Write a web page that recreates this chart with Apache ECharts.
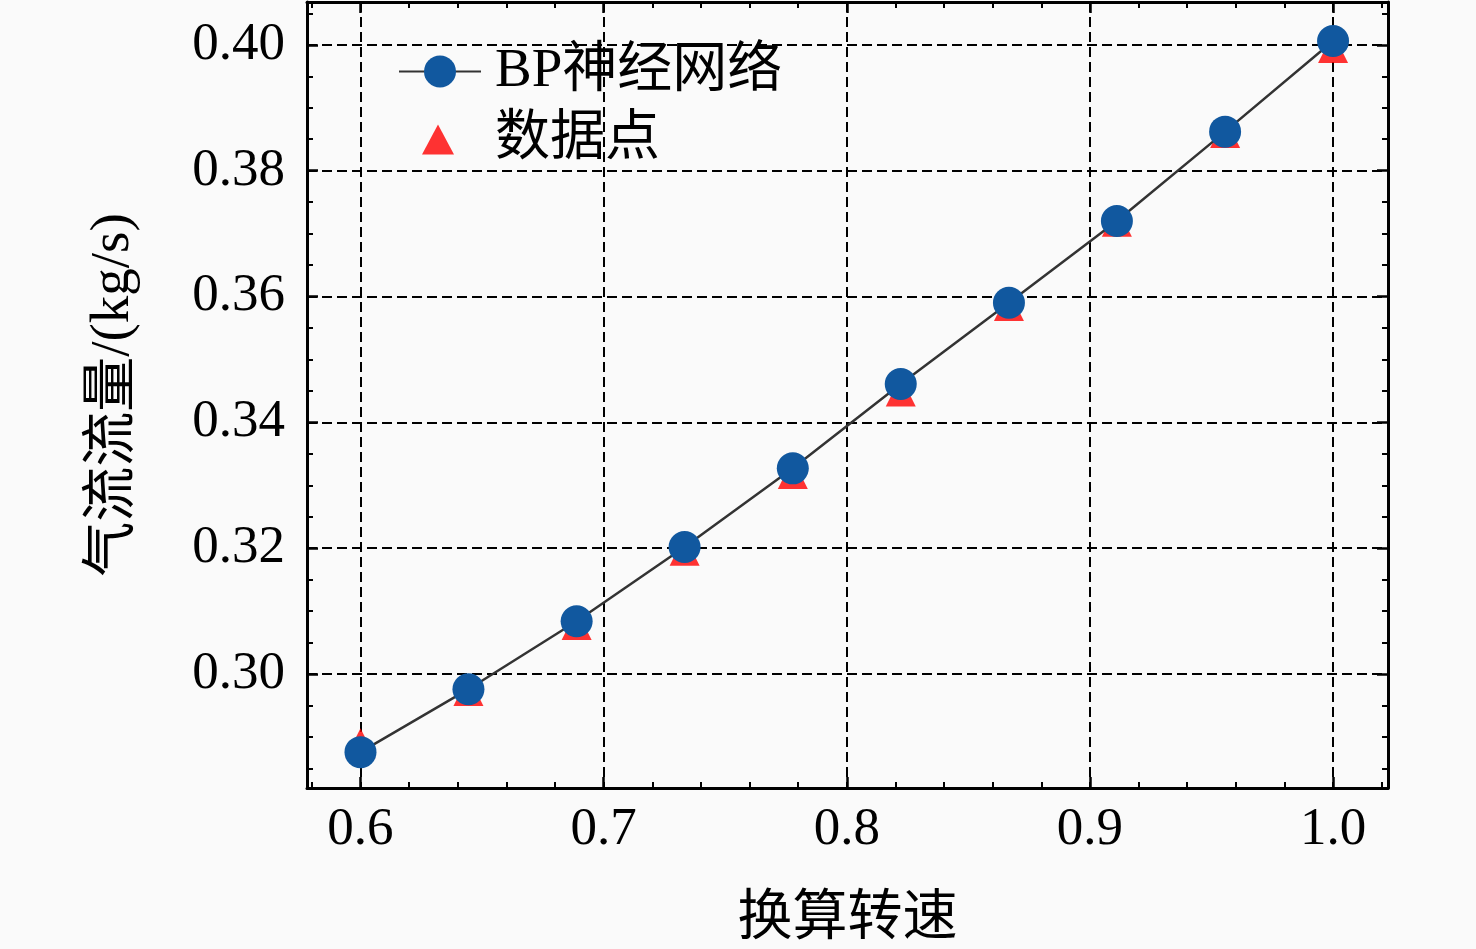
<!DOCTYPE html>
<html><head><meta charset="utf-8">
<script src="https://cdn.jsdelivr.net/npm/echarts@6/dist/echarts.min.js"></script>
<style>html,body{margin:0;padding:0;background:#fafafa}#c{width:1476px;height:949px}</style>
</head><body><div id="c"></div>
<script>
const speeds = [0.6, 0.6444, 0.6889, 0.7333, 0.7778, 0.8222, 0.8667, 0.9111, 0.9556, 1.0];
const bpValues = [0.2876, 0.2976, 0.3084, 0.3202, 0.3327, 0.3461, 0.3590, 0.3720, 0.3862, 0.4006];
const dataValues = [0.2890, 0.2973, 0.3078, 0.3196, 0.3318, 0.3449, 0.3585, 0.3719, 0.3860, 0.3995];
const seriesNames = ['BP神经网络', '数据点'];
const xTitle = '换算转速';
const yTitle = '气流流量/(kg/s)';
const xMajorTicks = [0.6, 0.7, 0.8, 0.9, 1.0];
const xMinorTicks = [0.58, 0.62, 0.64, 0.66, 0.68, 0.72, 0.74, 0.76, 0.78, 0.82, 0.84, 0.86, 0.88, 0.92, 0.94, 0.96, 0.98, 1.02];
const yMajorTicks = [0.30, 0.32, 0.34, 0.36, 0.38, 0.40];
const yMinorTicks = [0.285, 0.29, 0.295, 0.305, 0.31, 0.315, 0.325, 0.33, 0.335, 0.345, 0.35, 0.355, 0.365, 0.37, 0.375, 0.385, 0.39, 0.395, 0.405];

const FONT = '"Liberation Serif", "Times New Roman", "Noto Sans CJK SC", serif';
const chart = echarts.init(document.getElementById('c'));
const xRange = [0.578, 1.0226], yRange = [0.2819, 0.4068];
const axisLineOn = {show: true, onZero: false, lineStyle: {color: '#000', width: 3}};
const majorTick = {show: true, inside: true, length: 11, lineStyle: {color: '#000', width: 2.5}};
const split = {show: true, lineStyle: {color: '#000', width: 2, type: [10, 5]}};
const tickLabelStyle = {fontFamily: FONT, fontSize: 53, color: '#000'};
const titleStyle = {fontFamily: FONT, fontSize: 55, color: '#000'};

function xAx(pos, withLabels) {
  return {type: 'value', position: pos, min: xRange[0], max: xRange[1],
    axisLine: axisLineOn,
    axisTick: Object.assign({}, majorTick, {customValues: xMajorTicks}),
    splitLine: withLabels ? Object.assign({}, split) : {show: false},
    axisLabel: withLabels ? Object.assign({customValues: xMajorTicks, margin: 16,
      formatter: v => v.toFixed(1)}, tickLabelStyle) : {show: false}};
}
function xMinorAx(pos) {
  return {type: 'value', position: pos, min: xRange[0], max: xRange[1],
    axisLine: {show: false, onZero: false},
    axisTick: {show: true, inside: true, length: 6, customValues: xMinorTicks, lineStyle: {color: '#000', width: 2}},
    splitLine: {show: false}, axisLabel: {show: false}};
}
function yAx(pos, withLabels) {
  return {type: 'value', position: pos, min: yRange[0], max: yRange[1],
    axisLine: axisLineOn,
    axisTick: Object.assign({}, majorTick, {customValues: yMajorTicks}),
    splitLine: withLabels ? Object.assign({}, split) : {show: false},
    axisLabel: withLabels ? Object.assign({customValues: yMajorTicks, margin: 22,
      formatter: v => v.toFixed(2)}, tickLabelStyle) : {show: false}};
}
function yMinorAx(pos) {
  return {type: 'value', position: pos, min: yRange[0], max: yRange[1],
    axisLine: {show: false, onZero: false},
    axisTick: {show: true, inside: true, length: 6, customValues: yMinorTicks, lineStyle: {color: '#000', width: 2}},
    splitLine: {show: false}, axisLabel: {show: false}};
}

const xBottom = xAx('bottom', true);
Object.assign(xBottom, {name: xTitle, nameLocation: 'middle', nameGap: 104, nameTextStyle: titleStyle});
const yLeft = yAx('left', true);
Object.assign(yLeft, {name: yTitle, nameLocation: 'middle', nameGap: 166, nameTextStyle: titleStyle});

const option = {
  backgroundColor: '#fafafa',
  animation: false,
  grid: {left: 307, right: 88, top: 2, bottom: 161, containLabel: false, outerBoundsMode: 'none'},
  legend: [
    {left: 393, top: 39, itemWidth: 82, itemHeight: 40, itemGap: 0,
     textStyle: Object.assign({padding: [0, 0, 0, 9]}, titleStyle), data: [seriesNames[0]]},
    {left: 417, top: 107, itemWidth: 32, itemHeight: 30, itemGap: 0,
     textStyle: Object.assign({padding: [0, 0, 0, 36]}, titleStyle), data: [seriesNames[1]]}
  ],
  xAxis: [xBottom, xAx('top', false), xMinorAx('bottom'), xMinorAx('top')],
  yAxis: [yLeft, yAx('right', false), yMinorAx('left'), yMinorAx('right')],
  series: [
    {name: seriesNames[1], type: 'scatter', z: 2,
     data: speeds.map((x, i) => [x, dataValues[i]]),
     symbol: 'triangle', symbolSize: 30,
     itemStyle: {color: '#ff0000'}},
    {name: seriesNames[0], type: 'line', z: 3,
     data: speeds.map((x, i) => [x, bpValues[i]]),
     symbol: 'circle', symbolSize: 32, showAllSymbol: true,
     lineStyle: {color: '#333333', width: 2.5},
     itemStyle: {color: '#11589f', borderWidth: 0}}
  ]
};
chart.setOption(option);
</script></body></html>
